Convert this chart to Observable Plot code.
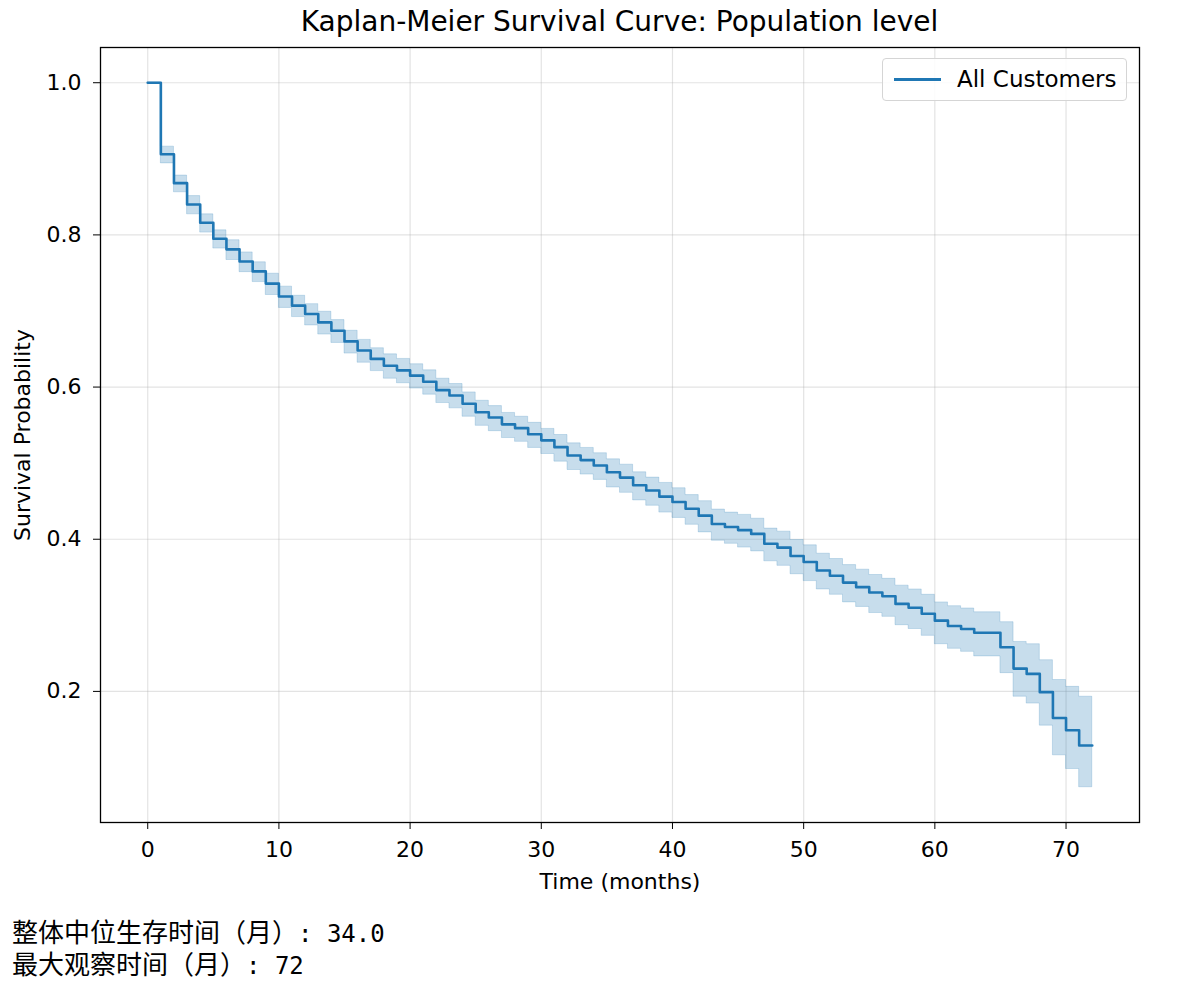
<!DOCTYPE html>
<html>
<head>
<meta charset="utf-8">
<script src="https://cdn.jsdelivr.net/npm/d3@7"></script>
<script src="https://cdn.jsdelivr.net/npm/@observablehq/plot@0.6"></script>
<style>
  html, body { margin: 0; padding: 0; background: #fff; }
  #wrap { position: relative; width: 1181px; height: 981px; font-family: "DejaVu Sans", sans-serif; color: #000; }
  #title { position: absolute; left: 100px; width: 1039px; top: 5px; text-align: center; font-size: 28px; line-height: 34px; }
  #legend { position: absolute; left: 882px; top: 58px; width: 245px; height: 43px; border: 1px solid #d5d5d5; border-radius: 4px; background: rgba(255,255,255,0.85); box-sizing: border-box; }
  #legend .swatch { position: absolute; left: 11px; top: 19px; width: 47px; height: 3px; background: #1f77b4; }
  #legend .lab { position: absolute; left: 74px; top: 5px; font-size: 23px; line-height: 30px; }
  .foot { position: absolute; left: 12px; white-space: pre; line-height: 26px; font-family: "DejaVu Sans Mono", "Noto Sans CJK SC", monospace; }
  .foot .cjk { font-size: 26px; }
  .foot .mono { font-size: 24px; }
</style>
</head>
<body>
<div id="wrap">
  <div id="chart"></div>
  <div id="title"></div>
  <div id="legend"><div class="swatch"></div><div class="lab"></div></div>
  <div class="foot" id="f1" style="top:920px"><span class="cjk"></span><span class="mono"></span></div>
  <div class="foot" id="f2" style="top:952px"><span class="cjk"></span><span class="mono"></span></div>
</div>
<script>
const titleText = "Kaplan-Meier Survival Curve: Population level";
const xLabel = "Time (months)";
const yLabel = "Survival Probability";
const seriesName = "All Customers";
const footLabels = ["整体中位生存时间（月）", "最大观察时间（月）"];
const footValues = [": 34.0", ": 72"];

const xTicks = [0, 10, 20, 30, 40, 50, 60, 70];
const yTicks = [0.2, 0.4, 0.6, 0.8, 1.0];

const times = [0,1,2,3,4,5,6,7,8,9,10,11,12,13,14,15,16,17,18,19,20,21,22,23,24,25,26,27,28,29,30,31,32,33,34,35,36,37,38,39,40,41,42,43,44,45,46,47,48,49,50,51,52,53,54,55,56,57,58,59,60,61,62,63,64,65,66,67,68,69,70,71,72];
const surv = [1.000,0.906,0.868,0.840,0.816,0.795,0.781,0.765,0.752,0.736,0.719,0.707,0.696,0.685,0.674,0.660,0.648,0.637,0.628,0.622,0.615,0.607,0.596,0.589,0.578,0.567,0.560,0.551,0.546,0.538,0.530,0.521,0.510,0.504,0.497,0.488,0.481,0.471,0.464,0.456,0.449,0.440,0.431,0.420,0.416,0.412,0.407,0.394,0.389,0.378,0.370,0.359,0.352,0.343,0.337,0.330,0.325,0.315,0.310,0.302,0.293,0.286,0.282,0.277,0.277,0.258,0.230,0.223,0.199,0.165,0.149,0.129,0.129];
const upper = [1.000,0.916,0.878,0.851,0.827,0.806,0.793,0.777,0.764,0.749,0.732,0.720,0.709,0.699,0.688,0.674,0.662,0.651,0.643,0.637,0.630,0.622,0.611,0.604,0.593,0.582,0.575,0.566,0.561,0.553,0.545,0.537,0.526,0.520,0.513,0.505,0.498,0.488,0.481,0.474,0.467,0.458,0.450,0.439,0.435,0.432,0.427,0.414,0.410,0.399,0.392,0.381,0.374,0.366,0.360,0.353,0.348,0.339,0.334,0.327,0.317,0.312,0.309,0.304,0.304,0.291,0.265,0.262,0.241,0.215,0.206,0.193,0.193];
const lower = [1.000,0.894,0.856,0.827,0.803,0.782,0.767,0.751,0.738,0.721,0.704,0.692,0.681,0.669,0.658,0.644,0.632,0.621,0.611,0.605,0.598,0.590,0.579,0.572,0.561,0.549,0.542,0.533,0.528,0.520,0.512,0.502,0.491,0.485,0.478,0.468,0.461,0.451,0.444,0.435,0.428,0.419,0.409,0.398,0.394,0.389,0.384,0.371,0.365,0.354,0.345,0.334,0.327,0.317,0.311,0.303,0.298,0.287,0.282,0.273,0.262,0.256,0.252,0.246,0.246,0.224,0.193,0.184,0.155,0.116,0.098,0.074,0.074];

const data = times.map((t, i) => ({t, s: surv[i], lo: lower[i], hi: upper[i]}));
const color = "#1f77b4";

// matplotlib-style 5% margins
const xMin = d3.min(times), xMax = d3.max(times);
const yMin = d3.min(lower), yMax = d3.max(upper);
const xPad = (xMax - xMin) * 0.05, yPad = (yMax - yMin) * 0.05;

const chart = Plot.plot({
  width: 1181,
  height: 900,
  marginLeft: 100,
  marginRight: 42,
  marginTop: 47,
  marginBottom: 78,
  style: {fontFamily: "DejaVu Sans, sans-serif", fontSize: "22px", color: "#000", background: "#fff"},
  x: {domain: [xMin - xPad, xMax + xPad]},
  y: {domain: [yMin - yPad, yMax + yPad]},
  marks: [
    Plot.gridX(xTicks, {stroke: "#b0b0b0", strokeOpacity: 0.35, strokeWidth: 1.2}),
    Plot.gridY(yTicks, {stroke: "#b0b0b0", strokeOpacity: 0.35, strokeWidth: 1.2}),
    Plot.areaY(data, {x: "t", y1: "lo", y2: "hi", curve: "step-after", fill: color, fillOpacity: 0.25, stroke: color, strokeOpacity: 0.2, strokeWidth: 1}),
    Plot.lineY(data, {x: "t", y: "s", curve: "step-after", stroke: color, strokeWidth: 2.6}),
    Plot.frame({stroke: "#000", strokeWidth: 1.3}),
    Plot.axisX(xTicks, {tickSize: 7, tickPadding: 12, tickFormat: d => String(d), label: xLabel, labelAnchor: "center", labelArrow: "none", labelOffset: 66, fontSize: 22}),
    Plot.axisY(yTicks, {tickSize: 7, tickPadding: 12, tickFormat: d => d.toFixed(1), label: yLabel, labelAnchor: "center", labelArrow: "none", labelOffset: 86, fontSize: 22})
  ]
});
document.getElementById("chart").appendChild(chart);
document.getElementById("title").textContent = titleText;
document.querySelector("#legend .lab").textContent = seriesName;
["f1", "f2"].forEach((id, i) => {
  const el = document.getElementById(id);
  el.querySelector(".cjk").textContent = footLabels[i];
  el.querySelector(".mono").textContent = footValues[i];
});
</script>
</body>
</html>
